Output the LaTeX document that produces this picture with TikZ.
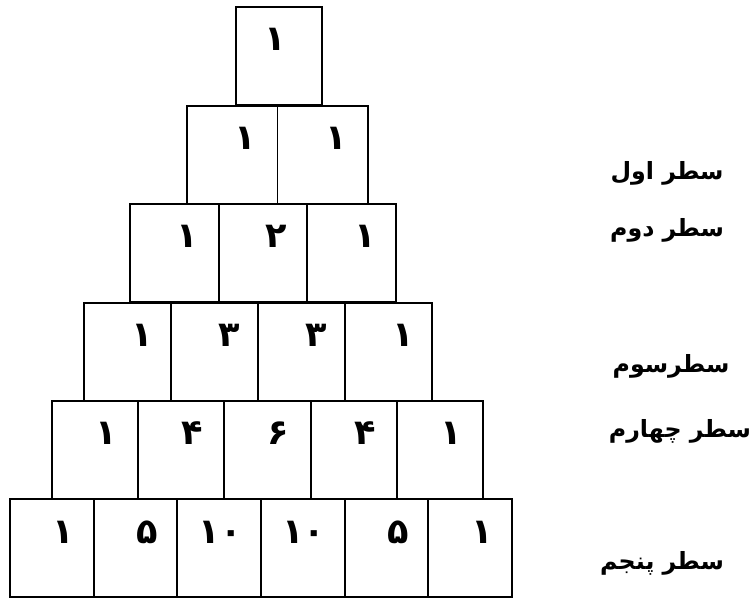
\documentclass[tikz,border=0pt]{standalone}
\usepackage{fontspec}
\usepackage{tikz}
\usetikzlibrary{positioning}
\newfontfamily\arabicfont[Script=Arabic]{DejaVu Sans}
\TeXXeTstate=1
\tikzset{
  cell/.style={
    rectangle, draw, line width=1.1pt,
    anchor=north west, inner sep=0pt, outer sep=0pt,
    minimum height=1.96cm
  },
  num/.style={font=\arabicfont\bfseries\fontsize{20}{24}\selectfont, inner sep=0pt, anchor=base east},
  rowlabel/.style={font=\arabicfont\bfseries\fontsize{13.5}{16}\selectfont, inner sep=0pt, anchor=base},
}

\begin{document}
\begin{tikzpicture}[x=0.02cm, y=-0.02cm]
    \useasboundingbox (0,0) rectangle (752,598);

    % rows of the triangle: row / left / right / top
    \foreach \r/\lft/\rgt/\top in {0/236/322/7, 1/187/368/106, 2/130/396/204,
                                   3/84/432/303, 4/52/483/401, 5/10/512/499} {
      \pgfmathtruncatemacro\n{\r+1}
      \pgfmathsetmacro\w{(\rgt-\lft)/\n}
      \pgfmathsetmacro\wcm{\w*0.02}
      \foreach \c in {1,...,\n} {
        \node[cell, minimum width=\wcm cm] (c-\r-\c) at ({\lft+(\c-1)*\w}, \top) {};
      }
    }

    % numbers
    \node[num] (n-0-1) at ([shift={(-36,44)}]c-0-1.north east) {۱};
    \foreach \v [count=\c] in {۱,۱}
      \node[num] (n-1-\c) at ([shift={(-21,44)}]c-1-\c.north east) {\v};
    \foreach \v [count=\c] in {۱,۲,۱}
      \node[num] (n-2-\c) at ([shift={(-20,44)}]c-2-\c.north east) {\v};
    \foreach \v [count=\c] in {۱,۳,۳,۱}
      \node[num] (n-3-\c) at ([shift={(-18,44)}]c-3-\c.north east) {\v};
    \foreach \v [count=\c] in {۱,۴,۶,۴,۱}
      \node[num] (n-4-\c) at ([shift={(-21,44)}]c-4-\c.north east) {\v};
    \foreach \v [count=\c] in {۱,۵,۱۰,۱۰,۵,۱}
      \node[num] (n-5-\c) at ([shift={(-19,44)}]c-5-\c.north east) {\v};

    % row labels
    \node[rowlabel] (lbl-1) at (667,180) {\beginR سطر اول\endR};
    \node[rowlabel] (lbl-2) at (667,237) {\beginR سطر دوم\endR};
    \node[rowlabel] (lbl-3) at (671,373) {\beginR سطرسوم\endR};
    \node[rowlabel] (lbl-4) at (680,438) {\beginR سطر چهارم\endR};
    \node[rowlabel] (lbl-5) at (662,570) {\beginR سطر پنجم\endR};
  \end{tikzpicture}
\end{document}
